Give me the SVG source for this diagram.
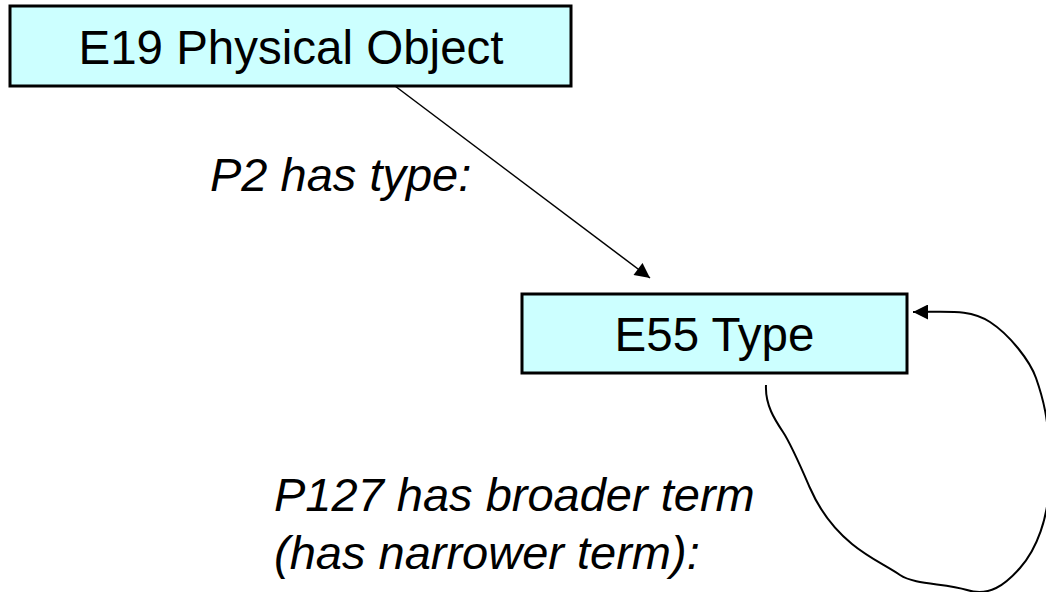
<svg xmlns="http://www.w3.org/2000/svg" width="1046" height="592" viewBox="0 0 1046 592">
  <style>
    .box { fill: #CCFFFF; stroke: #000; stroke-width: 3; }
    .name { font-family: "Liberation Sans", Arial, sans-serif; font-size: 47.5px; fill: #000; }
    .prop { font-family: "Liberation Sans", Arial, sans-serif; font-size: 47px; font-style: italic; fill: #000; }
    .link { fill: none; stroke: #000; }
  </style>
  <defs>
    <marker id="arrow" viewBox="0 0 10 10" refX="10" refY="5" markerUnits="userSpaceOnUse" markerWidth="17" markerHeight="15" orient="auto">
      <path d="M0,0 L10,5 L0,10 z" fill="#000"/>
    </marker>
  </defs>

  <g id="connectors">
    <!-- P2 has type -->
    <line class="link" x1="395" y1="86" x2="650" y2="278" stroke-width="1.5" marker-end="url(#arrow)"/>
    <!-- P127 self loop on E55 -->
    <path class="link" stroke-width="2" marker-end="url(#arrow)"
      d="M766,385 C765,405 775,420 783,432 S800,465 810,488 S835,530 852,544 S885,565 900,575 S945,583 967,590 S1005,585 1020,568 S1050,520 1050,470 S1042,395 1036,378 S1010,335 990,322 S950,312 913,312"/>
  </g>

  <g id="e19">
    <rect class="box" x="10" y="6" width="561" height="80"/>
    <text class="name" x="291" y="63.5" text-anchor="middle">E19 Physical Object</text>
  </g>

  <g id="e55">
    <rect class="box" x="522" y="294" width="385" height="79"/>
    <text class="name" x="714.5" y="351" text-anchor="middle">E55 Type</text>
  </g>

  <g id="labels">
    <text class="prop" x="210" y="191">P2 has type:</text>
    <text class="prop" x="274" y="511">P127 has broader term</text>
    <text class="prop" x="274" y="569">(has narrower term):</text>
  </g>
</svg>
